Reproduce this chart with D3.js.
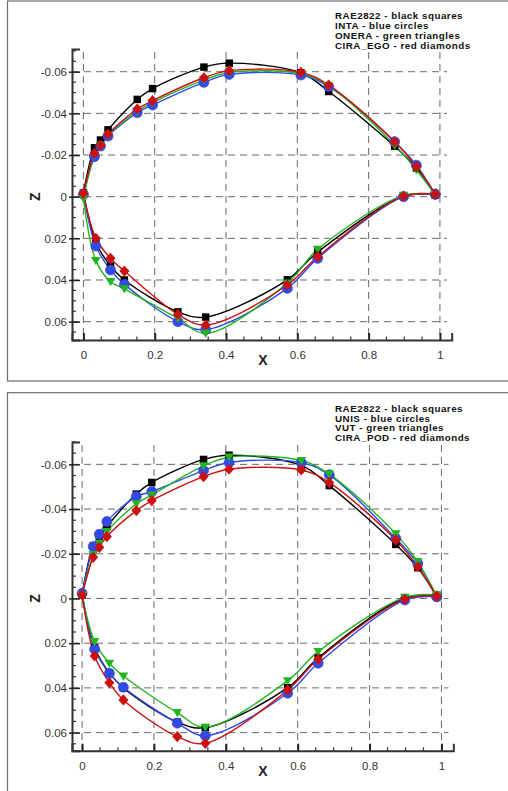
<!DOCTYPE html>
<html><head><meta charset="utf-8">
<script src="https://cdn.jsdelivr.net/npm/d3@7"></script>
<style>body{margin:0;background:#fff}svg{display:block}</style>
</head><body>
<script>
// ---- data ----
const xUpper = [0, 0.031, 0.048, 0.069, 0.151, 0.194, 0.338, 0.409, 0.61, 0.688, 0.873, 0.934, 0.987];
const xLower = [0, 0.035, 0.076, 0.115, 0.265, 0.343, 0.572, 0.657, 0.898, 0.987];
const xTicks = [0, 0.2, 0.4, 0.6, 0.8, 1];
const xTickLabels = ["0", "0.2", "0.4", "0.6", "0.8", "1"];
const zTicks = [-0.06, -0.04, -0.02, 0, 0.02, 0.04, 0.06];
const zTickLabels = ["-0.06", "-0.04", "-0.02", "0", "0.02", "0.04", "0.06"];

const raeUpper = [-0.0018, -0.0235, -0.0272, -0.0321, -0.0467, -0.0519, -0.0622, -0.0641, -0.0595, -0.0505, -0.0242, -0.0138, -0.0008];
const raeLower = [-0.0018, 0.0220, 0.0333, 0.0400, 0.0553, 0.0578, 0.0399, 0.0266, -0.0002, -0.0009];

const intaUpper = [-0.0011, -0.0192, -0.0243, -0.0291, -0.0403, -0.0440, -0.0549, -0.0587, -0.0584, -0.0528, -0.0264, -0.0151, -0.0012];
const intaLower = [-0.0011, 0.0237, 0.0352, 0.0421, 0.0600, 0.0638, 0.0440, 0.0296, 0.0000, -0.0012];
const oneraUpper = [0.0008, -0.0200, -0.0246, -0.0296, -0.0410, -0.0452, -0.0560, -0.0596, -0.0590, -0.0532, -0.0248, -0.0128, -0.0010];
const oneraLower = [0.0008, 0.0307, 0.0408, 0.0443, 0.0584, 0.0656, 0.0415, 0.0253, -0.0006, -0.0010];
const egoUpper = [-0.0016, -0.0208, -0.0248, -0.0300, -0.0421, -0.0461, -0.0571, -0.0605, -0.0597, -0.0536, -0.0264, -0.0144, -0.0012];
const egoLower = [-0.0016, 0.0200, 0.0296, 0.0357, 0.0565, 0.0616, 0.0424, 0.0288, -0.0003, -0.0012];

const unisUpper = [-0.0023, -0.0232, -0.0287, -0.0344, -0.0456, -0.0478, -0.0572, -0.0608, -0.0608, -0.0553, -0.0269, -0.0157, -0.0008];
const unisLower = [-0.0023, 0.0227, 0.0335, 0.0397, 0.0558, 0.0614, 0.0424, 0.0290, 0.0007, -0.0008];
const vutUpper = [-0.0015, -0.0195, -0.0247, -0.0299, -0.0423, -0.0463, -0.0593, -0.0632, -0.0617, -0.0556, -0.0289, -0.0165, -0.0011];
const vutLower = [-0.0015, 0.0193, 0.0290, 0.0347, 0.0511, 0.0576, 0.0368, 0.0238, -0.0005, -0.0016];
const podUpper = [-0.0016, -0.0184, -0.0229, -0.0277, -0.0393, -0.0438, -0.0545, -0.0578, -0.0575, -0.0518, -0.0262, -0.0142, -0.0011];
const podLower = [-0.0016, 0.0257, 0.0377, 0.0454, 0.0618, 0.0648, 0.0410, 0.0272, 0.0003, -0.0011];

const legendTop = ["RAE2822 - black squares", "INTA - blue circles", "ONERA - green triangles", "CIRA_EGO - red diamonds"];
const legendBottom = ["RAE2822 - black squares", "UNIS - blue circles", "VUT - green triangles", "CIRA_POD - red diamonds"];

const colors = {black: "#000000", blue: "#2f4bea", green: "#22b522", red: "#cc1010"};

// ---- drawing ----
const W = 508, H = 791;
const svg = d3.select("body").append("svg").attr("width", W).attr("height", H);

const panels = [
  {frameY: 1, frameH: 380, xDom: [-0.032, 1.033], xR: [72, 451.7], zDom: [-0.0709, 0.0688], zR: [49, 340],
   legend: legendTop, legendY: 19.4, gridTop: 52, gridRight: 447,
   series: [
     {up: raeUpper, lo: raeLower, c: colors.black, m: "square"},
     {up: intaUpper, lo: intaLower, c: colors.blue, m: "circle"},
     {up: oneraUpper, lo: oneraLower, c: colors.green, m: "triangle"},
     {up: egoUpper, lo: egoLower, c: colors.red, m: "diamond"}]},
  {frameY: 392.7, frameH: 420, xDom: [-0.028, 1.033], xR: [72, 453.3], zDom: [-0.0700, 0.0681], zR: [442, 750.7],
   legend: legendBottom, legendY: 411.8, gridTop: 445, gridRight: 448.5,
   series: [
     {up: raeUpper, lo: raeLower, c: colors.black, m: "square"},
     {up: unisUpper, lo: unisLower, c: colors.blue, m: "circle"},
     {up: vutUpper, lo: vutLower, c: colors.green, m: "triangle"},
     {up: podUpper, lo: podLower, c: colors.red, m: "diamond"}]}
];

const symbolFor = {
  square: d3.symbol().type(d3.symbolSquare).size(56)(),
  circle: d3.symbol().type(d3.symbolCircle).size(80)(),
  diamond: "M0,-5.6L5,0L0,5.6L-5,0Z",
  triangle: "M-4.8,-3.6L4.8,-3.6L0,4.6Z"
};

panels.forEach(p => {
  const g = svg.append("g");
  g.append("rect").attr("x", 7.5).attr("y", p.frameY).attr("width", 520).attr("height", p.frameH)
    .attr("fill", "none").attr("stroke", "#6e6e6e").attr("stroke-width", 1.2);

  const x = d3.scaleLinear().domain(p.xDom).range(p.xR);
  const z = d3.scaleLinear().domain(p.zDom).range(p.zR);
  const top = p.zR[0], bottom = p.zR[1], left = p.xR[0];

  // grid
  g.selectAll(".vg").data(xTicks).join("line")
    .attr("x1", d => x(d)).attr("x2", d => x(d)).attr("y1", p.gridTop).attr("y2", bottom)
    .attr("stroke", "#6a6a6a").attr("stroke-width", 1).attr("stroke-dasharray", "7,5");
  g.selectAll(".hg").data(zTicks).join("line")
    .attr("x1", left).attr("x2", p.gridRight).attr("y1", d => z(d)).attr("y2", d => z(d))
    .attr("stroke", "#6a6a6a").attr("stroke-width", 1).attr("stroke-dasharray", "7,5");

  // axes
  const xAxis = d3.axisBottom(x).tickValues(xTicks).tickSize(-7).tickFormat((d, i) => xTickLabels[i]);
  const gx = g.append("g").attr("transform", `translate(0,${bottom})`).call(xAxis);
  gx.select(".domain").attr("stroke", "#333").attr("stroke-width", 2);
  gx.selectAll(".tick line").attr("stroke", "#222").attr("stroke-width", 2);
  gx.selectAll(".tick text").attr("y", 11).attr("dy", "0.71em").attr("font-family", "Liberation Sans, Arial, sans-serif")
    .attr("font-size", 11.5).attr("fill", "#333");
  const xMinor = d3.range(0, 1.0001, 0.05).filter(v => Math.abs(v * 5 - Math.round(v * 5)) > 1e-6);
  g.selectAll(".xm").data(xMinor).join("line")
    .attr("x1", d => x(d)).attr("x2", d => x(d)).attr("y1", bottom).attr("y2", bottom - 3.5)
    .attr("stroke", "#333").attr("stroke-width", 1.2);

  const zAxis = d3.axisLeft(z).tickValues(zTicks).tickSize(-8).tickPadding(6).tickFormat((d, i) => zTickLabels[i]);
  const gz = g.append("g").attr("transform", `translate(${left},0)`).call(zAxis);
  gz.select(".domain").attr("stroke", "#333").attr("stroke-width", 2);
  gz.selectAll(".tick line").attr("stroke", "#222").attr("stroke-width", 1.5).attr("x1", -3);
  gz.selectAll(".tick text").attr("x", -5).attr("font-family", "Liberation Sans, Arial, sans-serif")
    .attr("font-size", 11.5).attr("fill", "#333");
  const zMinor = d3.range(-0.07, 0.0701, 0.005).filter(v => z(v) >= top && z(v) <= bottom && Math.abs(v * 50 - Math.round(v * 50)) > 1e-6);
  g.selectAll(".zm").data(zMinor).join("line")
    .attr("x1", left).attr("x2", left + 4).attr("y1", d => z(d)).attr("y2", d => z(d))
    .attr("stroke", "#333").attr("stroke-width", 1.2);

  // titles
  g.append("text").attr("x", 263).attr("y", bottom + 25).attr("text-anchor", "middle")
    .attr("font-family", "Liberation Sans, Arial, sans-serif").attr("font-weight", "bold").attr("font-size", 14)
    .attr("fill", "#222").text("X");
  g.append("text").attr("transform", `translate(40,${z(0)}) rotate(-90)`).attr("text-anchor", "middle")
    .attr("font-family", "Liberation Sans, Arial, sans-serif").attr("font-weight", "bold").attr("font-size", 14)
    .attr("fill", "#222").text("Z");

  // curves
  const line = d3.line().x(d => x(d[0])).y(d => z(d[1])).curve(d3.curveCatmullRom.alpha(0.5));
  p.series.forEach(s => {
    const up = xUpper.map((v, i) => [v, s.up[i]]);
    const lo = xLower.map((v, i) => [v, s.lo[i]]);
    g.append("path").attr("d", line(up)).attr("fill", "none").attr("stroke", s.c).attr("stroke-width", 1.4);
    g.append("path").attr("d", line(lo)).attr("fill", "none").attr("stroke", s.c).attr("stroke-width", 1.4);
  });
  p.series.forEach(s => {
    const pts = xUpper.map((v, i) => [v, s.up[i]]).concat(xLower.slice(1).map((v, i) => [v, s.lo[i + 1]]));
    g.selectAll(null).data(pts).join("path")
      .attr("d", symbolFor[s.m])
      .attr("transform", d => `translate(${x(d[0])},${z(d[1])})`)
      .attr("fill", s.c).attr("stroke", s.m === "circle" ? "#4a3aa8" : "none").attr("stroke-width", 0.6);
  });

  // legend
  const lg = g.append("g");
  lg.append("rect").attr("x", 330).attr("y", p.legendY - 12).attr("width", 145).attr("height", 42).attr("fill", "#fff");
  p.legend.forEach((t, i) => {
    lg.append("text").attr("x", 335).attr("y", p.legendY + i * 9.7)
      .attr("font-family", "Liberation Sans, Arial, sans-serif").attr("font-weight", "bold").attr("font-size", 9.8)
      .attr("letter-spacing", 0.5)
      .attr("fill", "#111").text(t);
  });
});
</script>
</body></html>
